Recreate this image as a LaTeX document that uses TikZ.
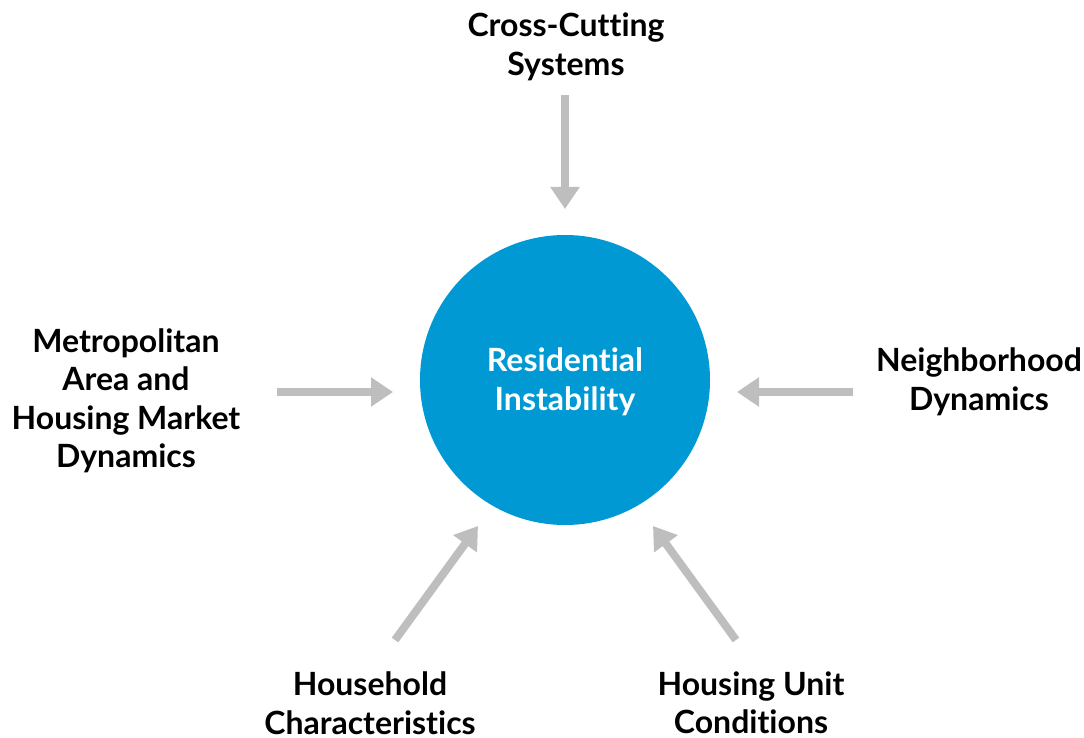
\documentclass[tikz,border=0pt]{standalone}
\usepackage{fontspec}
\setmainfont{Lato}[Ligatures=NoCommon]
\usetikzlibrary{arrows.meta}
\definecolor{hubblue}{HTML}{0099D3}
\definecolor{arrowgrey}{HTML}{BDBEBD}
\begin{document}
\begin{tikzpicture}[x=1pt,y=-1pt,
  label/.style={align=center,font=\fontsize{32}{38.5}\selectfont\bfseries,text=black,inner sep=0pt},
  feed/.style={draw=arrowgrey,line width=8pt,-{Triangle[width=28pt,length=22pt]}}]
  \useasboundingbox (0,0) rectangle (1084,738);
  % central hub
  \node[circle,fill=hubblue,minimum size=290pt,inner sep=0pt] (hub) at (565,380) {};
  \node[label,text=white] (hubtext) at (565,382) {Residential\\Instability};
  % factor labels
  \node[label] (cross) at (566,47) {Cross-Cutting\\Systems};
  \node[label] (metro) at (126,401) {Metropolitan\\Area and\\Housing Market\\Dynamics};
  \node[label] (neigh) at (979,382) {Neighborhood\\Dynamics};
  \node[label] (house) at (370,703) {Household\\Characteristics};
  \node[label] (unit) at (751,703) {Housing Unit\\Conditions};
  % arrow ends
  \coordinate (crossA) at (565,95);   \coordinate (crossB) at (565,209);
  \coordinate (metroA) at (277,392);  \coordinate (metroB) at (393,392);
  \coordinate (neighA) at (853,392);  \coordinate (neighB) at (737,392);
  \coordinate (houseA) at (395,640);  \coordinate (houseB) at (478,526);
  \coordinate (unitA) at (736,640);   \coordinate (unitB) at (653,526);
  % influences
  \draw[feed] (crossA) -- (crossB);
  \draw[feed] (metroA) -- (metroB);
  \draw[feed] (neighA) -- (neighB);
  \draw[feed] (houseA) -- (houseB);
  \draw[feed] (unitA) -- (unitB);
\end{tikzpicture}
\end{document}
